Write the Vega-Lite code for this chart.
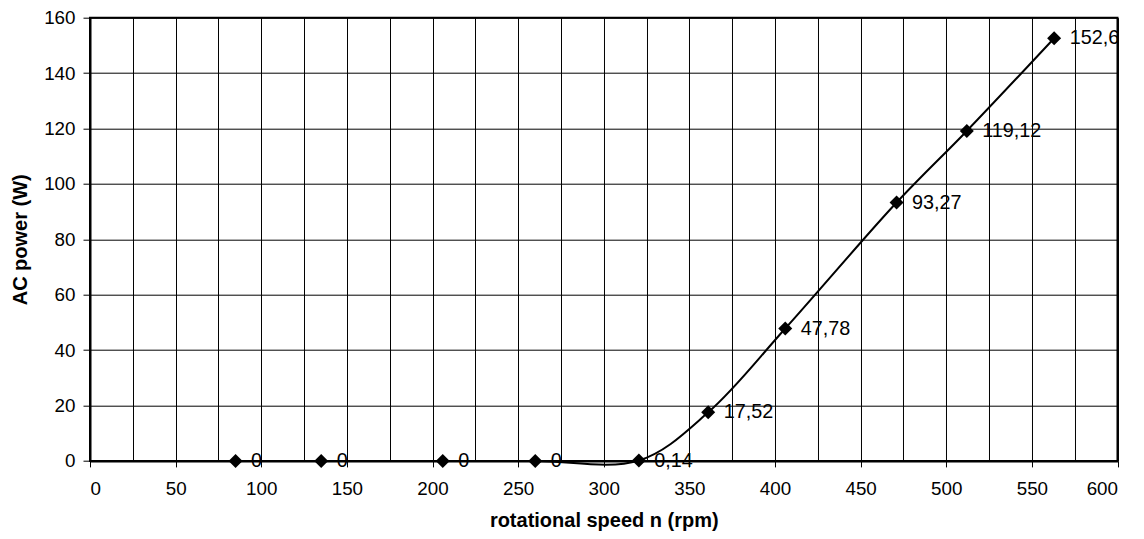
{
  "$schema": "https://vega.github.io/schema/vega-lite/v6.json",
  "width": 1027.5,
  "height": 443.2,
  "autosize": {"type": "none"},
  "padding": {"left": 90, "top": 17.7, "right": 26.5, "bottom": 78},
  "background": "white",
  "config": {
    "font": "Liberation Sans",
    "view": {"stroke": "black", "strokeWidth": 2},
    "axis": {
      "domainColor": "black",
      "domainWidth": 2,
      "gridColor": "black",
      "gridOpacity": 1,
      "gridWidth": 1,
      "tickColor": "black",
      "tickWidth": 1,
      "labelColor": "black",
      "labelFont": "Liberation Sans",
      "labelFontSize": 18.8,
      "titleColor": "black",
      "titleFont": "Liberation Sans",
      "titleFontSize": 20,
      "titleFontWeight": "bold",
      "labelOverlap": false
    }
  },
  "data": {
    "values": [
      {"n": 85, "P": 0, "label": "0"},
      {"n": 135, "P": 0, "label": "0"},
      {"n": 206, "P": 0, "label": "0"},
      {"n": 260, "P": 0, "label": "0"},
      {"n": 320.5, "P": 0.14, "label": "0,14"},
      {"n": 361, "P": 17.52, "label": "17,52"},
      {"n": 406, "P": 47.78, "label": "47,78"},
      {"n": 471, "P": 93.27, "label": "93,27"},
      {"n": 512, "P": 119.12, "label": "119,12"},
      {"n": 563, "P": 152.6, "label": "152,6"}
    ]
  },
  "encoding": {
    "x": {
      "field": "n",
      "type": "quantitative",
      "scale": {"domain": [0, 600], "nice": false, "zero": false},
      "axis": {
        "title": "rotational speed n (rpm)",
        "values": [0, 25, 50, 75, 100, 125, 150, 175, 200, 225, 250, 275, 300, 325, 350, 375, 400, 425, 450, 475, 500, 525, 550, 575, 600],
        "format": "d",
        "labelExpr": "datum.value % 50 === 0 ? datum.label : ''",
        "tickOpacity": {"condition": {"test": "datum.value % 50 === 0", "value": 1}, "value": 0},
        "tickSize": 6,
        "labelPadding": 28,
        "labelBaseline": "alphabetic",
        "titleX": 513.75,
        "titleY": 65.8,
        "titleBaseline": "alphabetic"
      }
    },
    "y": {
      "field": "P",
      "type": "quantitative",
      "scale": {"domain": [0, 160], "nice": false},
      "axis": {
        "title": "AC power (W)",
        "values": [0, 20, 40, 60, 80, 100, 120, 140, 160],
        "format": "d",
        "tickSize": 7,
        "labelPadding": 8,
        "labelBaseline": "middle",
        "titleX": -63.3,
        "titleY": 221.6,
        "titleBaseline": "alphabetic"
      }
    }
  },
  "layer": [
    {
      "transform": [{"filter": "datum.P < 1"}],
      "mark": {"type": "text", "align": "left", "baseline": "middle", "dx": 15.5, "fontSize": 19.8, "color": "black", "font": "Liberation Sans", "clip": false},
      "encoding": {"text": {"field": "label"}}
    },
    {
      "transform": [{"filter": "datum.P >= 1"}],
      "mark": {"type": "text", "align": "left", "baseline": "middle", "dx": 15.5, "fontSize": 19.8, "color": "black", "font": "Liberation Sans", "clip": true},
      "encoding": {"text": {"field": "label"}}
    },
    {
      "mark": {"type": "line", "interpolate": "catmull-rom", "color": "black", "strokeWidth": 2}
    },
    {
      "mark": {"type": "point", "shape": "diamond", "filled": true, "color": "black", "size": 196, "opacity": 1}
    }
  ]
}
